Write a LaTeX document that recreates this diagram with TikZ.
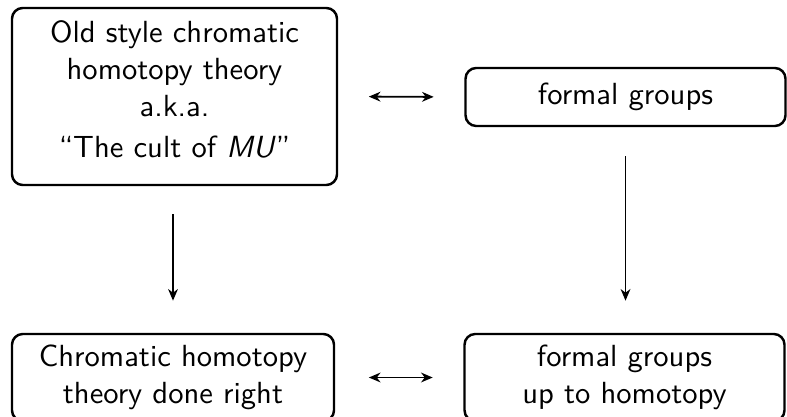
\documentclass[tikz,border=0pt]{standalone}
\usetikzlibrary{arrows.meta}
\begin{document}
\begin{tikzpicture}[x=0.327pt,y=-0.327pt,
  box/.style={draw,line width=0.8pt,rounded corners=3.5pt,inner sep=0pt},
  txt/.style={align=center,font=\sffamily,inner sep=0pt},
  arr/.style={line width=0.6pt,{Stealth[length=3.8pt,width=3.2pt,inset=1.2pt]}-{Stealth[length=3.8pt,width=3.2pt,inset=1.2pt]}},
  darr/.style={line width=0.5pt,-{Stealth[length=3.8pt,width=3.2pt,inset=1.2pt]}}]
\useasboundingbox (0,0) rectangle (787,416);
\clip (0,0) rectangle (787,416);
\node[box,minimum width=325*0.327pt,minimum height=177*0.327pt] (old) at (174.5,96.5) {};
\node[txt] (oldtxt) at (174.5,89.5) {Old style chromatic\\homotopy theory\\a.k.a.\\[1.5pt]``The cult of \textit{MU}''};
\node[box,minimum width=320*0.327pt,minimum height=58*0.327pt,font=\sffamily] (fg) at (625.5,97) {formal groups};
\node[box,minimum width=322*0.327pt,minimum height=87*0.327pt,txt] (right) at (173,377.5) {Chromatic homotopy\\theory done right};
\node[box,minimum width=320*0.327pt,minimum height=87*0.327pt,txt] (fgh) at (624.5,377.5) {formal groups\\up to homotopy};
\draw[arr,shorten <=10pt,shorten >=10pt] (old.east) -- (fg.west);
\draw[arr,shorten <=11pt,shorten >=10pt] (right.east) -- (fgh.west);
\draw[darr,shorten <=9.2pt,shorten >=10.5pt] (old.south -| right.north) -- (right.north);
\draw[darr,shorten <=9.5pt,shorten >=10.5pt] (fg.south) -- (fg.south |- fgh.north);
\end{tikzpicture}
\end{document}
